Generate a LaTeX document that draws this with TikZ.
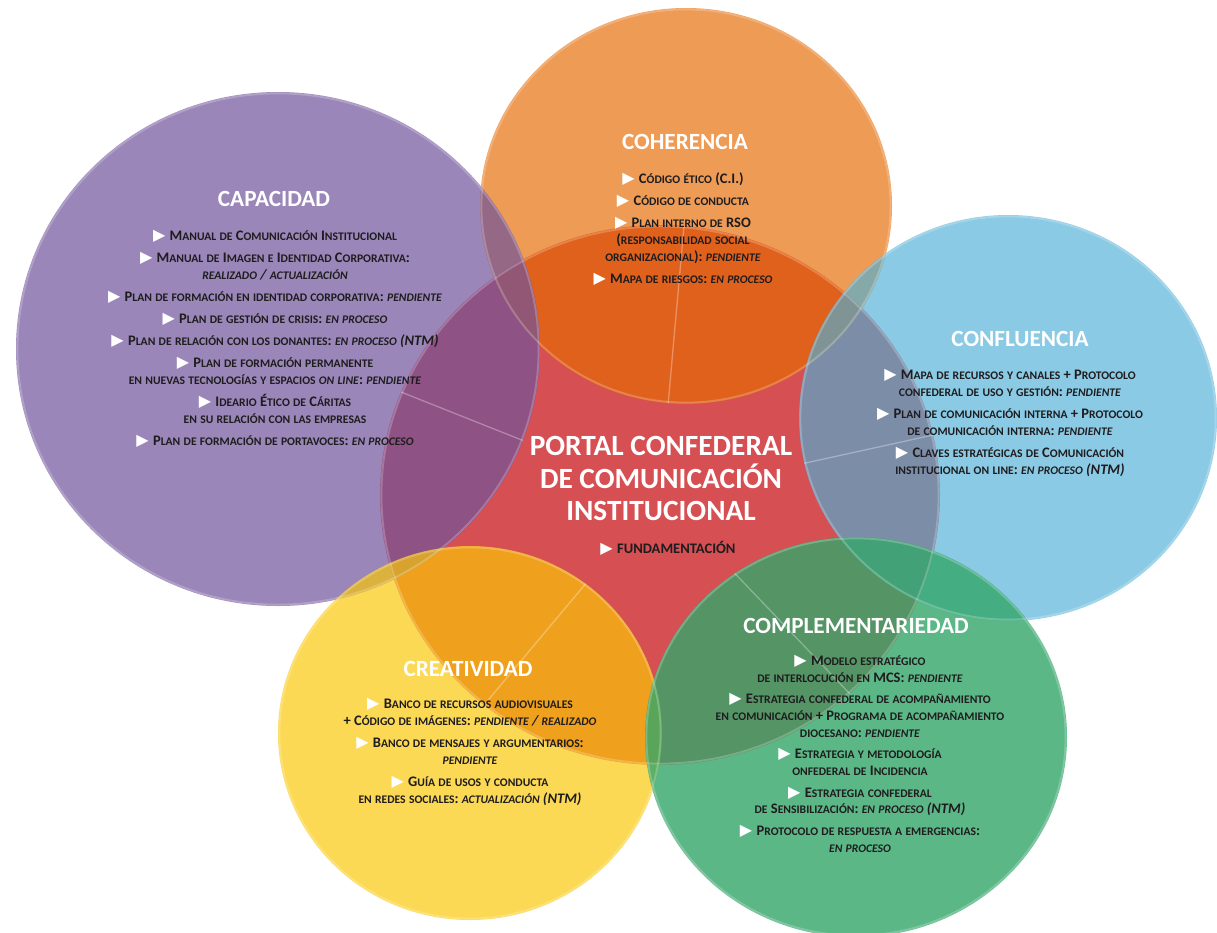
\documentclass[tikz,border=0pt]{standalone}
\usepackage{fontspec}
\setmainfont{Carlito}
\newfontfamily\symfont{DejaVu Sans}
\makeatletter
\ExplSyntaxOn
\seq_new:N \l__rs_words_seq
\bool_new:N \l__rs_first_bool
\int_new:N \l__rs_uc_int
\cs_new_protected:Npn \__rs_char:N #1
  {
    \int_set:Nn \l__rs_uc_int { \char_value_uccode:n { `#1 } }
    \bool_lazy_or:nnTF
      { \int_compare_p:nNn { \l__rs_uc_int } = { 0 } }
      { \int_compare_p:nNn { \l__rs_uc_int } = { `#1 } }
      { #1 }
      {
        \group_begin:
          \fontsize { \fp_eval:n { 0.8 * \f@size } } { \f@baselineskip } \selectfont
          \char_generate:nn { \l__rs_uc_int } { 11 }
        \group_end:
      }
  }
\cs_new_protected:Npn \rsSC #1
  {
    \seq_set_split:Nnn \l__rs_words_seq { ~ } { #1 }
    \bool_set_true:N \l__rs_first_bool
    \seq_map_inline:Nn \l__rs_words_seq
      {
        \bool_if:NTF \l__rs_first_bool
          { \bool_set_false:N \l__rs_first_bool }
          { \c_space_tl }
        \tl_map_function:nN { ##1 } \__rs_char:N
      }
  }
\ExplSyntaxOff
\makeatother
\newcommand{\tri}{{\symfont\mdseries\textcolor{white}{\scalebox{1.1}{▶}}}\hspace{0.3em}}
\newcommand{\st}[1]{\textit{\rsSC{#1}}}
\definecolor{redC}{RGB}{214,79,82}
\definecolor{oraC}{RGB}{230,107,2}
\definecolor{purC}{RGB}{112,84,155}
\definecolor{bluC}{RGB}{77,175,215}
\definecolor{yelC}{RGB}{251,200,4}
\definecolor{grnC}{RGB}{52,166,106}
\definecolor{txtC}{RGB}{30,28,30}
\tikzset{
  rim/.style={draw=white, draw opacity=0.22, line width=1.5pt},
  spoke/.style={draw=white, draw opacity=0.3, line width=1pt},
  body/.style={align=center, text=txtC, inner sep=0pt, anchor=north,
    font=\bfseries\fontsize{10.9}{12.75}\selectfont},
  ctitle/.style={text=white, inner sep=0pt,
    font=\bfseries\fontsize{17.4}{20}\selectfont},
}
\begin{document}
\begin{tikzpicture}[x=0.75pt,y=-0.75pt]
\useasboundingbox (0,0) rectangle (1217,932);
\fill[white] (0,0) rectangle (1217,932);
% circles
\fill[redC] (660,495) ellipse [x radius=210pt, y radius=202.5pt];
\fill[oraC, fill opacity=0.67] (686,206) ellipse [x radius=154.5pt, y radius=148.5pt];
\fill[purC, fill opacity=0.70] (278,349) ellipse [x radius=196.5pt, y radius=192.75pt];
\fill[bluC, fill opacity=0.65] (1008,418) ellipse [x radius=156.75pt, y radius=152.25pt];
\fill[yelC, fill opacity=0.68] (470,733) ellipse [x radius=144pt, y radius=140.25pt];
\fill[grnC, fill opacity=0.80] (856,737) ellipse [x radius=158.25pt, y radius=150pt];
% rims
\draw[rim] (660,495) ellipse [x radius=209pt, y radius=201.5pt];
\draw[rim] (686,206) ellipse [x radius=153.5pt, y radius=147.5pt];
\draw[rim] (278,349) ellipse [x radius=195.5pt, y radius=191.75pt];
\draw[rim] (1008,418) ellipse [x radius=155.75pt, y radius=151.25pt];
\draw[rim] (470,733) ellipse [x radius=143pt, y radius=139.25pt];
\draw[rim] (856,737) ellipse [x radius=157.25pt, y radius=149pt];
% spokes
\coordinate (rc) at (660,495);
\coordinate (sp1) at (401,392);
\coordinate (sp2) at (684,226);
\coordinate (sp3) at (933,435);
\coordinate (sp4) at (484,705);
\coordinate (sp5) at (850,694);
\begin{scope}
\clip (278,349) ellipse [x radius=196.5pt, y radius=192.75pt];
\draw[spoke] (rc) -- (sp1);
\end{scope}
\begin{scope}
\clip (686,206) ellipse [x radius=154.5pt, y radius=148.5pt];
\draw[spoke] (rc) -- (sp2);
\end{scope}
\begin{scope}
\clip (1008,418) ellipse [x radius=156.75pt, y radius=152.25pt];
\draw[spoke] (rc) -- (sp3);
\end{scope}
\begin{scope}
\clip (470,733) ellipse [x radius=144pt, y radius=140.25pt];
\draw[spoke] (rc) -- (sp4);
\end{scope}
\begin{scope}
\clip (856,737) ellipse [x radius=158.25pt, y radius=150pt];
\draw[spoke] (rc) -- (sp5);
\end{scope}
% titles
\node[ctitle] (tcap) at (274,199) {CAPACIDAD};
\node[ctitle] (tcoh) at (685,142) {COHERENCIA};
\node[ctitle] (tcon) at (1020,339) {CONFLUENCIA};
\node[ctitle] (tcre) at (468,669) {CREATIVIDAD};
\node[ctitle] (tcom) at (856,626) {COMPLEMENTARIEDAD};
\node[text=white, inner sep=0pt, anchor=north, align=center,
  font=\bfseries\fontsize{22}{24.4}\selectfont] (tportal) at (661,436)
  {PORTAL CONFEDERAL\\DE COMUNICACIÓN\\INSTITUCIONAL};
\node[text=txtC, inner sep=0pt, font=\bfseries\fontsize{10.9}{12.75}\selectfont]
  (fund) at (668,548) {\tri FUNDAMENTACIÓN};
% bodies
\node[body] (bcap) at (275,230) {%
\tri\rsSC{Manual de Comunicación Institucional}\\[3.75pt]
\tri\rsSC{Manual de Imagen e Identidad Corporativa:}\\
\st{realizado / actualización}\\[3.75pt]
\tri\rsSC{Plan de formación en identidad corporativa:} \st{pendiente}\\[3.75pt]
\tri\rsSC{Plan de gestión de crisis:} \st{en proceso}\\[3.75pt]
\tri\rsSC{Plan de relación con los donantes:} \st{en proceso (NTM)}\\[3.75pt]
\tri\rsSC{Plan de formación permanente}\\
\rsSC{en nuevas tecnologías y espacios} \st{on line}\rsSC{:} \st{pendiente}\\[3.75pt]
\tri\rsSC{Ideario Ético de Cáritas}\\
\rsSC{en su relación con las empresas}\\[3.75pt]
\tri\rsSC{Plan de formación de portavoces:} \st{en proceso}};
\node[body] (bcoh) at (683,172) {%
\tri\rsSC{Código ético (C.I.)}\\[3.75pt]
\tri\rsSC{Código de conducta}\\[3.75pt]
\tri\rsSC{Plan interno de RSO}\\
\rsSC{(responsabilidad social}\\
\rsSC{organizacional):} \st{pendiente}\\[3.75pt]
\tri\rsSC{Mapa de riesgos:} \st{en proceso}};
\node[body] (bcon) at (1010,369) {%
\tri\rsSC{Mapa de recursos y canales + Protocolo}\\
\rsSC{confederal de uso y gestión:} \st{pendiente}\\[3.75pt]
\tri\rsSC{Plan de comunicación interna + Protocolo}\\
\rsSC{de comunicación interna:} \st{pendiente}\\[3.75pt]
\tri\rsSC{Claves estratégicas de Comunicación}\\
\rsSC{institucional on line:} \st{en proceso (NTM)}};
\node[body] (bcre) at (470,698) {%
\tri\rsSC{Banco de recursos audiovisuales}\\
\rsSC{+ Código de imágenes:} \st{pendiente / realizado}\\[3.75pt]
\tri\rsSC{Banco de mensajes y argumentarios:}\\
\st{pendiente}\\[3.75pt]
\tri\rsSC{Guía de usos y conducta}\\
\rsSC{en redes sociales:} \st{actualización (NTM)}};
\node[body, font=\bfseries\fontsize{10.9}{12.4}\selectfont] (bcom) at (860,655) {%
\tri\rsSC{Modelo estratégico}\\
\rsSC{de interlocución en MCS:} \st{pendiente}\\[4pt]
\tri\rsSC{Estrategia confederal de acompañamiento}\\
\rsSC{en comunicación + Programa de acompañamiento}\\
\rsSC{diocesano:} \st{pendiente}\\[4pt]
\tri\rsSC{Estrategia y metodología}\\
\rsSC{onfederal de Incidencia}\\[4pt]
\tri\rsSC{Estrategia confederal}\\
\rsSC{de Sensibilización:} \st{en proceso (NTM)}\\[4pt]
\tri\rsSC{Protocolo de respuesta a emergencias:}\\
\st{en proceso}};
\end{tikzpicture}
\end{document}
